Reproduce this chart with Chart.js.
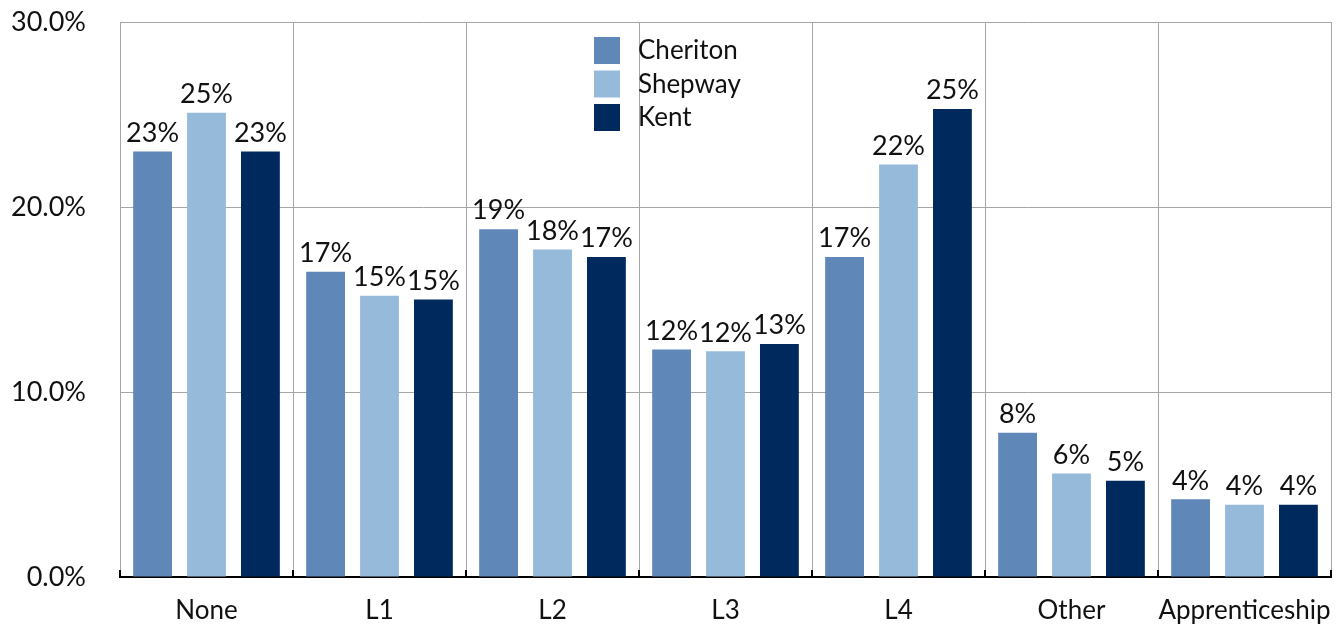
<!DOCTYPE html>
<html>
<head>
<meta charset="utf-8">
<script src="https://cdn.jsdelivr.net/npm/chart.js@4"></script>
<style>
  html, body { margin: 0; padding: 0; background: #fff; }
  #wrap { width: 1337px; height: 628px; }
</style>
</head>
<body>
<div id="wrap"><canvas id="chart"></canvas></div>
<script>
var categories = ['None', 'L1', 'L2', 'L3', 'L4', 'Other', 'Apprenticeship'];
var cheriton = [23.0, 16.5, 18.8, 12.3, 17.3, 7.8, 4.2];
var shepway = [25.1, 15.2, 17.7, 12.2, 22.3, 5.6, 3.9];
var kent = [23.0, 15.0, 17.3, 12.6, 25.3, 5.2, 3.9];
var yTicks = [0, 10, 20, 30];

var fontName = 'Lato, "Open Sans", sans-serif';

// labels above each bar
var barLabels = {
  id: 'barLabels',
  afterDatasetsDraw: function(chart) {
    var ctx = chart.ctx;
    ctx.save();
    ctx.font = '27px ' + fontName;
    ctx.fillStyle = '#111';
    ctx.textAlign = 'center';
    ctx.textBaseline = 'bottom';
    chart.data.datasets.forEach(function(ds, i) {
      chart.getDatasetMeta(i).data.forEach(function(bar, j) {
        ctx.fillText(Math.round(ds.data[j]) + '%', bar.x, bar.y - 5);
      });
    });
    ctx.restore();
  }
};

// small black ticks on the x axis, pointing up
var axisTicks = {
  id: 'axisTicks',
  afterDraw: function(chart) {
    var ctx = chart.ctx;
    var x = chart.scales.x;
    var bottom = chart.chartArea.bottom;
    var half = (x.getPixelForValue(1) - x.getPixelForValue(0)) / 2;
    ctx.save();
    ctx.strokeStyle = '#000';
    ctx.lineWidth = 2;
    for (var i = 0; i <= categories.length; i++) {
      var px = Math.round(x.getPixelForValue(i) - half);
      ctx.beginPath();
      ctx.moveTo(px, bottom - 7);
      ctx.lineTo(px, bottom + 1);
      ctx.stroke();
    }
    ctx.restore();
  }
};

// legend in a column inside the plot
var sideLegend = {
  id: 'sideLegend',
  afterDraw: function(chart) {
    var ctx = chart.ctx;
    var left = 594, top = 37;
    ctx.save();
    ctx.font = '26px ' + fontName;
    ctx.textBaseline = 'middle';
    chart.data.datasets.forEach(function(ds, i) {
      var y = top + i * 33.5;
      ctx.fillStyle = ds.backgroundColor;
      ctx.fillRect(left, y, 26, 27);
      ctx.fillStyle = '#111';
      ctx.fillText(ds.label, left + 44, y + 14);
    });
    ctx.restore();
  }
};

new Chart(document.getElementById('chart'), {
  type: 'bar',
  data: {
    labels: categories,
    datasets: [
      { label: 'Cheriton', data: cheriton, backgroundColor: '#5f87b8' },
      { label: 'Shepway', data: shepway, backgroundColor: '#95bada' },
      { label: 'Kent', data: kent, backgroundColor: '#002a5e' }
    ]
  },
  options: {
    responsive: true,
    maintainAspectRatio: false,
    animation: false,
    categoryPercentage: 0.935,
    barPercentage: 0.72,
    layout: { padding: { top: 22, right: 6, left: 0, bottom: 0 } },
    plugins: {
      legend: { display: false },
      tooltip: { enabled: false }
    },
    scales: {
      x: {
        afterFit: function(scale) {
          scale.paddingLeft = 0;
          scale.paddingRight = 0;
          scale.height = 51;
        },
        grid: { offset: true, color: '#a6a6a6', lineWidth: 1, drawTicks: false },
        border: { display: true, color: '#000', width: 2 },
        ticks: {
          color: '#111', font: { family: fontName, size: 26 }, padding: 18,
          maxRotation: 0, minRotation: 0, autoSkip: false
        }
      },
      y: {
        min: 0,
        max: 30,
        afterBuildTicks: function(scale) {
          scale.ticks = yTicks.map(function(v) { return { value: v }; });
        },
        afterFit: function(scale) {
          scale.width = 120;
          scale.paddingTop = 0;
          scale.paddingBottom = 0;
        },
        grid: { color: '#a6a6a6', lineWidth: 1, drawTicks: false },
        border: { display: true, color: '#a6a6a6', width: 1 },
        ticks: {
          color: '#111',
          padding: 34,
          font: { family: fontName, size: 27 },
          callback: function(v) { return v.toFixed(1) + '%'; }
        }
      }
    }
  },
  plugins: [barLabels, axisTicks, sideLegend]
});
</script>
</body>
</html>
